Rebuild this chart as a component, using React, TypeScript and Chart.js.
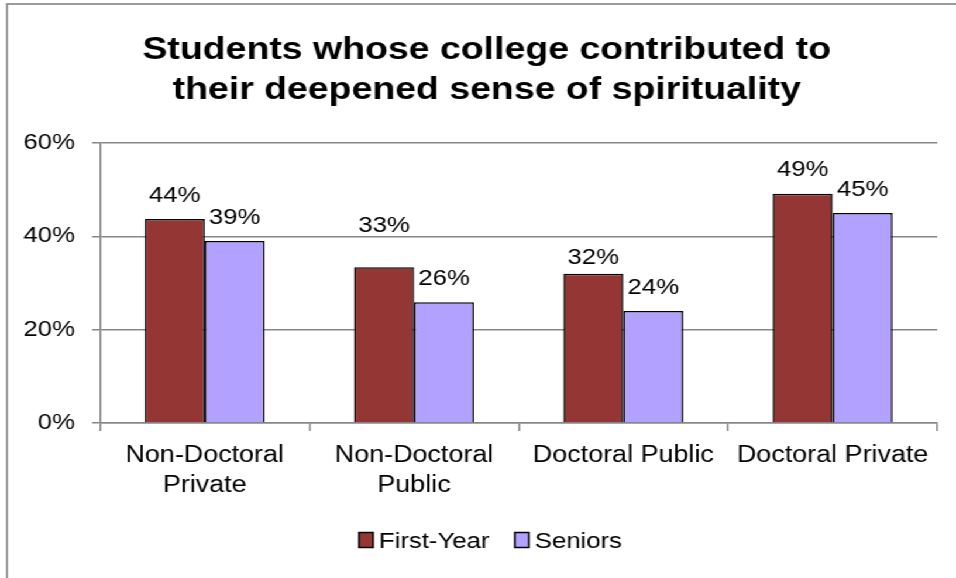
import React, { useEffect, useRef } from 'react';
import { Chart, registerables } from 'chart.js';

Chart.register(...registerables);

// ---- data ----
const categories: (string | string[])[] = [
  ['Non-Doctoral', 'Private'],
  ['Non-Doctoral', 'Public'],
  'Doctoral Public',
  'Doctoral Private',
];
const seriesNames = ['First-Year', 'Seniors'];
const firstYear = [43.7, 33.4, 32, 49.1];
const seniors = [39, 25.9, 24, 45];
const yMin = 0;
const yMax = 60;
const yStep = 20;
const titleLines = ['Students whose college contributed to', 'their deepened sense of spirituality'];

// ---- style ----
const W = 817;
const H = 578;
const STRETCH = 956 / W;
const FONT = '"Liberation Sans", Arial, Helvetica, sans-serif';
const COLORS = ['#943634', '#B2A1FF'];
const GRID = '#878787';
// per-label vertical nudges (px) for data labels, same shape as the series
const labelNudge = [
  [0, -18, 8, 0],
  [0, 0, 0, 0],
];

const decor = {
  id: 'decor',
  beforeDraw(chart: any) {
    const ctx = chart.ctx;
    ctx.save();
    ctx.fillStyle = '#ffffff';
    ctx.fillRect(0, 0, chart.width, chart.height);
    ctx.strokeStyle = '#8a8a8a';
    ctx.lineWidth = 1.7;
    ctx.strokeRect(6, 4, chart.width + 40, chart.height + 40);
    ctx.restore();
  },
  afterDatasetsDraw(chart: any) {
    const ctx = chart.ctx;
    ctx.save();
    ctx.font = `22px ${FONT}`;
    ctx.fillStyle = '#000';
    ctx.textAlign = 'center';
    ctx.textBaseline = 'alphabetic';
    chart.data.datasets.forEach((ds: any, di: number) => {
      const meta = chart.getDatasetMeta(di);
      meta.data.forEach((bar: any, i: number) => {
        const v = ds.data[i];
        const txt = Math.round(v) + '%';
        ctx.fillText(txt, bar.x, bar.y - 17.5 + (labelNudge[di]?.[i] ?? 0));
      });
    });
    ctx.restore();
  },
  afterDraw(chart: any) {
    const ctx = chart.ctx;
    ctx.save();
    // title
    ctx.font = `bold 32px ${FONT}`;
    ctx.fillStyle = '#000';
    ctx.textAlign = 'center';
    ctx.textBaseline = 'alphabetic';
    titleLines.forEach((t, i) => ctx.fillText(t, 416, 58.5 + i * 40.5));

    // legend
    ctx.font = `22px ${FONT}`;
    const boxW = 12;
    const boxH = 15;
    const gap = 5;
    const itemGap = 21.6;
    const items = chart.data.datasets.map((ds: any) => ({
      label: ds.label,
      color: ds.backgroundColor,
      w: ctx.measureText(ds.label).width,
    }));
    const total =
      items.reduce((s: number, it: any) => s + boxW + gap + it.w, 0) + itemGap * (items.length - 1);
    let x = 419.2 - total / 2;
    ctx.textAlign = 'left';
    items.forEach((it: any) => {
      ctx.fillStyle = it.color;
      ctx.fillRect(x, 532.5, boxW, boxH);
      ctx.strokeStyle = '#000';
      ctx.lineWidth = 1.5;
      ctx.strokeRect(x, 532.5, boxW, boxH);
      ctx.fillStyle = '#000';
      ctx.fillText(it.label, x + boxW + gap, 548.3);
      x += boxW + gap + it.w + itemGap;
    });
    ctx.restore();
  },
};

export default function App() {
  const ref = useRef<HTMLCanvasElement | null>(null);

  useEffect(() => {
    if (!ref.current) return;
    const chart = new Chart(ref.current, {
      type: 'bar',
      data: {
        labels: categories as any,
        datasets: [
          {
            label: seriesNames[0],
            data: firstYear,
            backgroundColor: COLORS[0],
            borderColor: '#000',
            borderWidth: 1.5,
            categoryPercentage: 0.573,
            barPercentage: 1.0,
          },
          {
            label: seriesNames[1],
            data: seniors,
            backgroundColor: COLORS[1],
            borderColor: '#000',
            borderWidth: 1.5,
            categoryPercentage: 0.573,
            barPercentage: 1.0,
          },
        ],
      },
      options: {
        responsive: false,
        animation: false,
        events: [],
        layout: { padding: { top: 143, left: 0, right: 16, bottom: 75 } },
        plugins: {
          legend: { display: false },
          title: { display: false },
          tooltip: { enabled: false },
        },
        scales: {
          x: {
            grid: {
              offset: true,
              drawOnChartArea: false,
              drawTicks: true,
              tickLength: 8,
              color: GRID,
              lineWidth: 1.5,
            },
            border: { display: true, color: GRID, width: 1.5 },
            ticks: {
              color: '#000',
              padding: 10,
              maxRotation: 0,
              autoSkip: false,
              font: { family: FONT, size: 23, lineHeight: 1.3 },
            },
            afterFit(scale: any) {
              scale.height = 80;
            },
          },
          y: {
            min: yMin,
            max: yMax,
            grid: { color: GRID, lineWidth: 1.5, tickLength: 6.8, drawTicks: true },
            border: { display: true, color: GRID, width: 1.5 },
            ticks: {
              stepSize: yStep,
              color: '#000',
              padding: 14.6,
              font: { family: FONT, size: 22 },
              callback: (v: any) => v + '%',
            },
            afterFit(scale: any) {
              scale.width = 85.5;
            },
          },
        },
      },
      plugins: [decor],
    });
    return () => chart.destroy();
  }, []);

  return (
    <div
      style={{
        position: 'absolute',
        left: 0,
        top: 0,
        width: W,
        height: H,
        transform: `scaleX(${STRETCH})`,
        transformOrigin: '0 0',
        background: '#fff',
      }}
    >
      <canvas ref={ref} width={W} height={H} style={{ display: 'block' }} />
    </div>
  );
}
